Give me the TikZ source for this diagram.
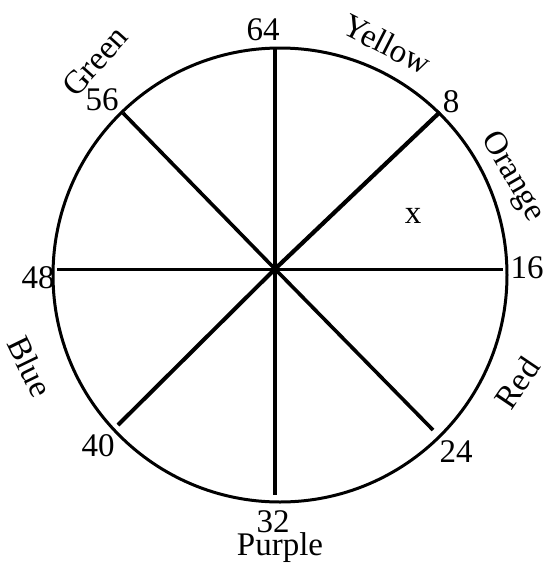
\documentclass[tikz,border=0pt]{standalone}
\usepackage{fontspec}
\setmainfont{Liberation Serif}
\begin{document}
\begin{tikzpicture}[x=1pt,y=-1pt,
  lbl/.style={inner sep=0pt,font=\fontsize{33}{33}\selectfont},
  spoke/.style={line width=3.6pt,line cap=butt},
  rim/.style={line width=3pt}]
\useasboundingbox (0,0) rectangle (553,568);
% circle
\coordinate (c) at (280,275);
\draw[rim] (c) circle[radius=227];
% spoke crossing and ends
\coordinate (o) at (275,269);
\coordinate (p64) at (275,47);
\coordinate (p8) at (440,112);
\coordinate (p16) at (503,269);
\coordinate (p24) at (433,430);
\coordinate (p32) at (275,495);
\coordinate (p40) at (118,425);
\coordinate (p48) at (57,269);
\coordinate (p56) at (123,113);
\draw[spoke] (o) -- (p64);
\draw[spoke] (o) -- (p32);
\draw[spoke,line width=3pt] (o) -- (p16);
\draw[spoke,line width=3pt] (o) -- (p48);
\draw[spoke,line width=4.2pt] (o) -- (p8);
\draw[spoke] (o) -- (p24);
\draw[spoke,line width=4pt] (o) -- (p40);
\draw[spoke] (o) -- (p56);
% numbers
\node[lbl] (n64) at (263,30) {64};
\node[lbl] (n8) at (451,102) {8};
\node[lbl] (n16) at (527,268) {16};
\node[lbl] (n24) at (456,452) {24};
\node[lbl] (n32) at (273,522) {32};
\node[lbl] (n40) at (98,446) {40};
\node[lbl] (n48) at (38,278) {48};
\node[lbl] (n56) at (102,100) {56};
% colour names
\node[lbl,rotate=-27] (yellow) at (387,44) {Yellow};
\node[lbl,rotate=-60] (orange) at (512,177) {Orange};
\node[lbl,rotate=56] (red) at (517,383) {Red};
\node[lbl] (purple) at (280,548) {Purple};
\node[lbl,rotate=-64] (blue) at (30,367) {Blue};
\node[lbl,rotate=48] (green) at (95,61) {Green};
\node[lbl] (x) at (413,216) {x};
\end{tikzpicture}
\end{document}
